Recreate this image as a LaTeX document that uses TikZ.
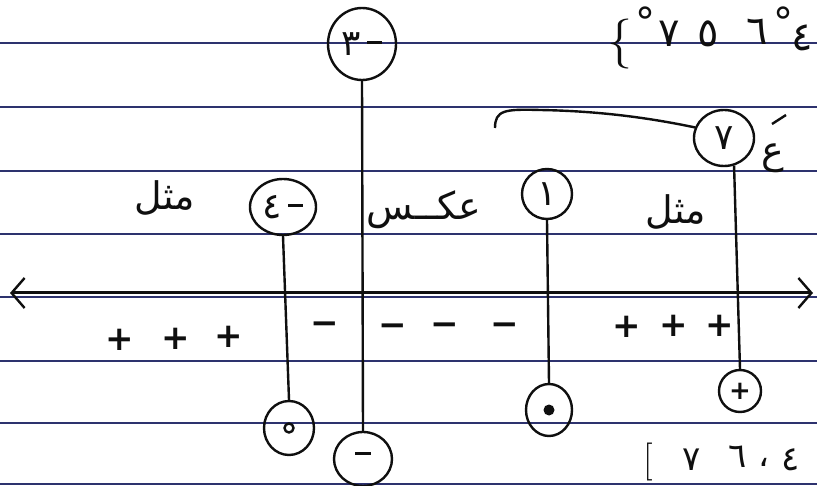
\documentclass[tikz,border=0pt]{standalone}
\usepackage{fontspec}
\usetikzlibrary{arrows.meta,shapes.geometric}
\newfontfamily\arabicfont[Script=Arabic]{DejaVu Sans}
\newfontfamily\signfont{DejaVu Sans}
\TeXXeTstate=1
\definecolor{rulecol}{RGB}{45,50,110}
\definecolor{ink}{RGB}{15,15,15}
\newcommand{\hminus}{\rule[0.32em]{0.42em}{0.09em}}
\begin{document}
\begin{tikzpicture}[x=1pt,y=-1pt,
  ruled/.style={rulecol, line width=1.3pt},
  ring/.style={draw=ink, ellipse, line width=2.4pt, inner sep=0pt, text=ink,
    font=\arabicfont\fontsize{36}{38}\selectfont},
  stem/.style={draw=ink, line width=2.4pt},
  word/.style={font=\arabicfont\fontsize{38}{42}\selectfont, text=ink, inner sep=0pt},
  sgn/.style={font=\signfont\bfseries\fontsize{34}{34}\selectfont, text=ink, inner sep=0pt},
  digit/.style={font=\arabicfont\fontsize{40}{44}\selectfont, text=ink, inner sep=0pt},
  bdigit/.style={font=\arabicfont\fontsize{34}{38}\selectfont, text=ink, inner sep=0pt}]
\fill[white] (0,0) rectangle (817,486);
\useasboundingbox (0,0) rectangle (817,486);
% ruled paper
\foreach \y in {43,107,171,234,297,361,423,484} \draw[ruled] (0,\y) -- (817,\y);
% number line
\coordinate (nl) at (10,293);
\coordinate (nr) at (813,293);
\draw[ink, line width=3pt, {Straight Barb[length=13pt,width=30pt,line width=2.4pt]}-{Straight Barb[length=13pt,width=30pt,line width=2.4pt]}] (nl) -- (nr);
% root circles (top)
\node[ring, minimum width=68, minimum height=72] (t3) at (362,44) {٣\,\hminus};
\node[ring, minimum width=66, minimum height=56] (m4) at (283,207) {٤\,\hminus};
\node[ring, minimum width=50, minimum height=50] (o1) at (547,194) {١};
\node[ring, minimum width=60, minimum height=56] (s7) at (724,138) {٧};
% bottom circles
\node[ring, minimum width=50, minimum height=54] (z4) at (289,428) {};
\node[draw=ink, circle, line width=2.4pt, minimum size=9, inner sep=0pt] (z4d) at (z4.center) {};
\node[ring, minimum width=58, minimum height=54] (n3) at (363,459) {\hminus};
\node[ring, minimum width=46, minimum height=52] (f1) at (549,410) {};
\node[fill=ink, circle, minimum size=11, inner sep=0pt] (f1d) at (f1.center) {};
\node[ring, minimum width=42, minimum height=42, font=\signfont\bfseries\fontsize{26}{26}\selectfont] (p7) at (740,391) {+};
% stems
\draw[stem] (m4.south) -- (z4.north);
\draw[stem] (t3.south) -- (n3.north);
\draw[stem] (o1.south) -- (f1.north);
\draw[stem] (s7.-70) -- (p7.north);
% curve to circle 7
\coordinate (cs) at (495,128);
\draw[stem] (cs) .. controls (495,110) and (505,109) .. (540,110) .. controls (600,111) and (650,118) .. (s7.160);
% words
\node[word] (w1) at (165,198) {\beginR مثل\endR};
\node[word] (w2) at (424,210) {\beginR عكــس\endR};
\node[word] (w3) at (676,212) {\beginR مثل\endR};
\node[word] (ain) at (773,158) {\beginR ع\endR};
\coordinate (tk1) at (772,124);
\coordinate (tk2) at (786,115);
\draw[stem] (tk1) -- (tk2);
% signs
\node[sgn] (p1) at (120,340) {+};
\node[sgn] (p2) at (176,339) {+};
\node[sgn] (p3) at (229,337) {+};
\node[sgn] (q1) at (325,328) {−};
\node[sgn] (q2) at (393,330) {−};
\node[sgn] (q3) at (445,329) {−};
\node[sgn] (q4) at (505,329) {−};
\node[sgn] (p4) at (627,327) {+};
\node[sgn] (p5) at (674,326) {+};
\node[sgn] (p6) at (720,326) {+};
% top-right set
\node[font=\fontsize{50}{50}\selectfont, text=ink, inner sep=0pt] (br) at (620,44) {\{};
\node[digit] (e1) at (645,22) {°};
\node[digit] (e2) at (669,34) {٧};
\node[digit] (e3) at (708,34) {٥};
\node[digit] (e4) at (757,32) {٦};
\node[digit] (e5) at (783,22) {°};
\node[digit] (e6) at (802,38) {٤};
% bottom set
\node[font=\fontsize{38}{38}\selectfont, text=ink, inner sep=0pt] (bk) at (648,462) {[};
\node[bdigit] (g1) at (692,460) {٧};
\node[bdigit] (g2) at (738,457) {٦};
\node[bdigit] (g3) at (764,462) {،};
\node[bdigit] (g4) at (791,460) {٤};
\end{tikzpicture}
\end{document}
